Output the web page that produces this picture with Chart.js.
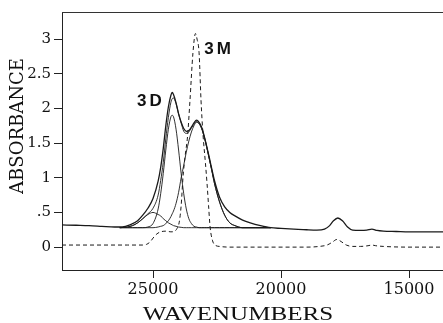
<!DOCTYPE html>
<html>
<head>
<meta charset="utf-8">
<script src="https://cdn.jsdelivr.net/npm/chart.js@4.4.1/dist/chart.umd.min.js"></script>
<style>
  html, body { margin: 0; padding: 0; background: #fff; }
  #wrap { width: 443px; height: 323px; position: relative; }
</style>
</head>
<body>
<div id="wrap"><canvas id="chart"></canvas></div>
<script>
// axis ranges and ticks
const xMin = 13672, xMax = 28555;
const yMin = -0.33, yMax = 3.39;
const xTickValues = [25000, 20000, 15000];
const yTickValues = [0, 0.5, 1, 1.5, 2, 2.5, 3];
const yTickLabels = ['0', '.5', '1', '1.5', '2', '2.5', '3'];
const xTitle = 'WAVENUMBERS';
const yTitle = 'ABSORBANCE';

// measured spectrum of 3D (solid)
const wnMeas = [28555, 28000, 27500, 27000, 26500, 26200, 25900, 25600, 25400, 25200, 25000, 24800, 24700, 24600, 24500, 24400, 24300, 24250, 24200, 24100, 24000, 23900, 23800, 23700, 23600, 23500, 23400, 23300, 23200, 23100, 23000, 22900, 22800, 22700, 22600, 22400, 22200, 22000, 21800, 21500, 21200, 20800, 20400, 20000, 19500, 19000, 18600, 18300, 18100, 17950, 17780, 17600, 17400, 17200, 16900, 16650, 16450, 16250, 16000, 15500, 15000, 14500, 14000, 13672];
const absMeas = [0.32, 0.315, 0.31, 0.30, 0.29, 0.29, 0.32, 0.38, 0.46, 0.56, 0.70, 0.95, 1.15, 1.42, 1.75, 2.02, 2.19, 2.23, 2.20, 2.08, 1.92, 1.80, 1.71, 1.67, 1.68, 1.73, 1.79, 1.83, 1.80, 1.73, 1.60, 1.45, 1.29, 1.12, 0.96, 0.72, 0.58, 0.50, 0.45, 0.39, 0.35, 0.31, 0.28, 0.27, 0.26, 0.25, 0.245, 0.26, 0.31, 0.38, 0.42, 0.38, 0.29, 0.245, 0.24, 0.245, 0.26, 0.24, 0.23, 0.225, 0.22, 0.22, 0.22, 0.22];

// fitted bands (thin solid)
const wnComp = [26300, 26000, 25800, 25600, 25400, 25200, 25000, 24800, 24700, 24600, 24500, 24400, 24300, 24250, 24200, 24100, 24000, 23900, 23800, 23700, 23600, 23500, 23400, 23300, 23200, 23100, 23000, 22900, 22800, 22700, 22600, 22400, 22200, 22000, 21800, 21500, 21000, 20400];
const bandA = [0.28, 0.28, 0.28, 0.28, 0.28, 0.29, 0.34, 0.55, 0.77, 1.06, 1.40, 1.70, 1.88, 1.90, 1.88, 1.70, 1.40, 1.06, 0.77, 0.55, 0.41, 0.34, 0.30, 0.29, 0.28, 0.28, 0.28, 0.28, 0.28, 0.28, 0.28, 0.28, 0.28, 0.28, 0.28, 0.28, 0.28, 0.28];
const bandB = [0.28, 0.28, 0.28, 0.28, 0.28, 0.28, 0.28, 0.29, 0.30, 0.31, 0.34, 0.38, 0.44, 0.48, 0.52, 0.63, 0.79, 1.00, 1.18, 1.37, 1.53, 1.66, 1.75, 1.80, 1.78, 1.71, 1.59, 1.44, 1.27, 1.10, 0.92, 0.65, 0.46, 0.35, 0.31, 0.28, 0.28, 0.28];
const bandC = [0.28, 0.29, 0.31, 0.35, 0.41, 0.47, 0.50, 0.47, 0.45, 0.41, 0.38, 0.35, 0.33, 0.32, 0.31, 0.30, 0.29, 0.285, 0.28, 0.28, 0.28, 0.28, 0.28, 0.28, 0.28, 0.28, 0.28, 0.28, 0.28, 0.28, 0.28, 0.28, 0.28, 0.28, 0.28, 0.28, 0.28, 0.28];
const bandSum = [0.28, 0.29, 0.31, 0.35, 0.41, 0.48, 0.56, 0.75, 0.96, 1.22, 1.56, 1.87, 2.09, 2.14, 2.15, 2.07, 1.92, 1.79, 1.67, 1.64, 1.66, 1.72, 1.77, 1.81, 1.78, 1.71, 1.59, 1.44, 1.27, 1.10, 0.92, 0.65, 0.46, 0.35, 0.31, 0.28, 0.28, 0.28];

// spectrum of 3M (dashed)
const wnMono = [28555, 27000, 26000, 25400, 25250, 25100, 25000, 24850, 24700, 24500, 24300, 24150, 24060, 23980, 23900, 23830, 23750, 23650, 23555, 23440, 23340, 23280, 23200, 23125, 23050, 22950, 22890, 22830, 22770, 22680, 22580, 22400, 22000, 21000, 20000, 19000, 18500, 18200, 18000, 17820, 17650, 17450, 17200, 16900, 16600, 16450, 16300, 16000, 15000, 14000, 13672];
const absMono = [0.03, 0.03, 0.03, 0.03, 0.04, 0.08, 0.13, 0.19, 0.22, 0.23, 0.22, 0.23, 0.27, 0.35, 0.60, 1.00, 1.30, 1.60, 2.12, 2.80, 3.08, 3.00, 2.80, 2.12, 1.64, 1.20, 0.92, 0.60, 0.29, 0.10, 0.03, 0.01, 0.0, 0.0, 0.0, 0.0, 0.01, 0.03, 0.07, 0.11, 0.08, 0.03, 0.01, 0.01, 0.02, 0.03, 0.02, 0.01, 0.0, 0.0, 0.0];

// curve labels
const labelText = ['3D', '3M'];
const labelWn = [25080, 22420];
const labelAbs = [2.10, 2.85];

function pts(xs, ys) {
  return xs.map((x, i) => ({ x: x, y: ys[i] }));
}

function lineSet(name, xs, ys, width, dash) {
  return {
    label: name,
    data: pts(xs, ys),
    borderColor: '#1a1a1a',
    borderWidth: width,
    borderDash: dash || [],
    pointRadius: 0,
    fill: false,
    cubicInterpolationMode: 'monotone'
  };
}

const serif = 'DejaVu Serif';

// top edge of the frame, axis titles (sit off-centre in the scan) and the 3D / 3M labels
const extras = {
  id: 'extras',
  afterDraw(chart) {
    let ctx = chart.ctx, a = chart.chartArea;
    let xs = chart.scales.x, ys = chart.scales.y;
    ctx.save();
    ctx.strokeStyle = '#333';
    ctx.lineWidth = 1;
    ctx.beginPath();
    ctx.moveTo(a.left, Math.round(a.top) + 0.5);
    ctx.lineTo(a.right, Math.round(a.top) + 0.5);
    ctx.stroke();

    ctx.fillStyle = '#111';
    ctx.textAlign = 'center';
    ctx.textBaseline = 'middle';

    // the scan is stretched sideways, so the x title is widened a little
    ctx.save();
    ctx.font = '19px "Liberation Serif", serif';
    ctx.translate(a.left + 176, a.bottom + 45);
    ctx.scale(1.32, 1);
    ctx.fillText(xTitle, 0, 0);
    ctx.restore();

    ctx.save();
    ctx.font = '18px "' + serif + '"';
    ctx.translate(18, a.top + 114);
    ctx.rotate(-Math.PI / 2);
    ctx.fillText(yTitle, 0, 0);
    ctx.restore();

    ctx.font = 'bold 17px "Liberation Sans", Arial, sans-serif';
    ctx.letterSpacing = '3px';
    for (let i = 0; i < labelText.length; i++) {
      ctx.fillText(labelText[i], xs.getPixelForValue(labelWn[i]), ys.getPixelForValue(labelAbs[i]));
    }
    ctx.restore();
  }
};

new Chart(document.getElementById('chart'), {
  type: 'line',
  data: {
    datasets: [
      lineSet('3M', wnMono, absMono, 1, [4, 3]),
      lineSet('band A', wnComp, bandA, 0.9),
      lineSet('band B', wnComp, bandB, 0.9),
      lineSet('band C', wnComp, bandC, 0.9),
      lineSet('fit', wnComp, bandSum, 0.9),
      lineSet('3D', wnMeas, absMeas, 1.3)
    ]
  },
  options: {
    animation: false,
    responsive: true,
    maintainAspectRatio: false,
    devicePixelRatio: 1,
    layout: { padding: { top: 12, right: 0, left: 0, bottom: 0 } },
    plugins: { legend: { display: false }, tooltip: { enabled: false } },
    scales: {
      x: {
        type: 'linear',
        reverse: true,
        min: xMin,
        max: xMax,
        afterBuildTicks: (s) => { s.ticks = xTickValues.map(v => ({ value: v })); },
        afterFit: (s) => { s.height = 53; },
        border: { display: true, color: '#222', width: 1 },
        grid: { display: true, drawOnChartArea: false, drawTicks: true, tickLength: 8, color: '#222' },
        ticks: {
          color: '#111', padding: 2, maxRotation: 0, font: { family: serif, size: 16 },
          callback: (v) => String(v)
        }
      },
      y: {
        min: yMin,
        max: yMax,
        afterBuildTicks: (s) => { s.ticks = yTickValues.map(v => ({ value: v })); },
        afterFit: (s) => { s.width = 62; },
        border: { display: true, color: '#222', width: 1 },
        grid: { display: true, drawOnChartArea: false, drawTicks: true, tickLength: 8, color: '#222' },
        ticks: {
          color: '#111', padding: 3, font: { family: serif, size: 15 },
          callback: (v) => { let i = yTickValues.indexOf(v); return i >= 0 ? yTickLabels[i] : ''; }
        }
      }
    }
  },
  plugins: [extras]
});
</script>
</body>
</html>
